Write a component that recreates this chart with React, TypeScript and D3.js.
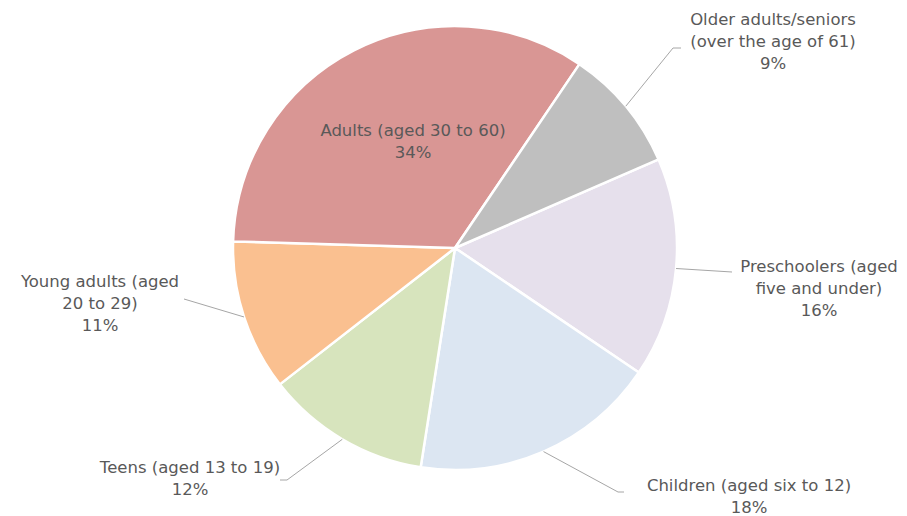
import React from "react";
import * as d3 from "d3";

const categories = [
  "Preschoolers (aged five and under)",
  "Children (aged six to 12)",
  "Teens (aged 13 to 19)",
  "Young adults (aged 20 to 29)",
  "Adults (aged 30 to 60)",
  "Older adults/seniors (over the age of 61)",
];
const values = [16, 18, 12, 11, 34, 9];
const colors = ["#E6E0EC", "#DCE6F2", "#D7E4BD", "#FAC090", "#D99694", "#BFBFBF"];
const labelLines = [
  ["Preschoolers (aged", "five and under)"],
  ["Children (aged six to 12)"],
  ["Teens (aged 13 to 19)"],
  ["Young adults (aged", "20 to 29)"],
  ["Adults (aged 30 to 60)"],
  ["Older adults/seniors", "(over the age of 61)"],
];

// label layout: text center x, first line center y, leader elbow & end (null = inside)
const labelLayout = [
  { x: 819, y: 266, elbow: [732, 272], end: [732, 272] },
  { x: 749, y: 485, elbow: [618, 492], end: [624, 492] },
  { x: 190, y: 467, elbow: [287, 480], end: [280, 480] },
  { x: 100, y: 281, elbow: [184, 299], end: [184, 299] },
  { x: 413, y: 130, elbow: null, end: null },
  { x: 773, y: 19, elbow: [673, 48], end: [681, 48] },
];

const W = 907;
const H = 516;
const cx = 455;
const cy = 248;
const R = 222;
const startDeg = 66.5;
const lineH = 22;

export default function App() {
  const pie = d3
    .pie<number>()
    .sort(null)
    .startAngle((startDeg * Math.PI) / 180)
    .endAngle((startDeg * Math.PI) / 180 + 2 * Math.PI);
  const arcs = pie(values);
  const arc = d3.arc<d3.PieArcDatum<number>>().innerRadius(0).outerRadius(R);
  const total = d3.sum(values);

  return (
    <div style={{ position: "absolute", left: 0, top: 0 }}>
      <svg width={W} height={H} style={{ display: "block", background: "#fff" }}>
        <g transform={`translate(${cx},${cy})`}>
          {arcs.map((a, i) => (
            <path key={i} d={arc(a) || ""} fill={colors[i]} stroke="#fff" strokeWidth={2.5} strokeLinejoin="round" />
          ))}
        </g>
        {arcs.map((a, i) => {
          const L = labelLayout[i];
          if (!L.elbow) return null;
          const mid = (a.startAngle + a.endAngle) / 2;
          const sx = cx + R * Math.sin(mid);
          const sy = cy - R * Math.cos(mid);
          const pts = [[sx, sy], L.elbow, L.end];
          return (
            <path
              key={"l" + i}
              d={d3.line()(pts as [number, number][]) || ""}
              fill="none"
              stroke="#A6A6A6"
              strokeWidth={1}
            />
          );
        })}
        {labelLines.map((lines, i) => {
          const L = labelLayout[i];
          const pct = Math.round((values[i] / total) * 100) + "%";
          const all = [...lines, pct];
          return (
            <text
              key={"t" + i}
              textAnchor="middle"
              fontFamily="'DejaVu Sans', sans-serif"
              fontSize={16.5}
              fill="#595959"
            >
              {all.map((s, j) => (
                <tspan key={j} x={L.x} y={L.y + j * lineH} dominantBaseline="central">
                  {s}
                </tspan>
              ))}
            </text>
          );
        })}
      </svg>
    </div>
  );
}
